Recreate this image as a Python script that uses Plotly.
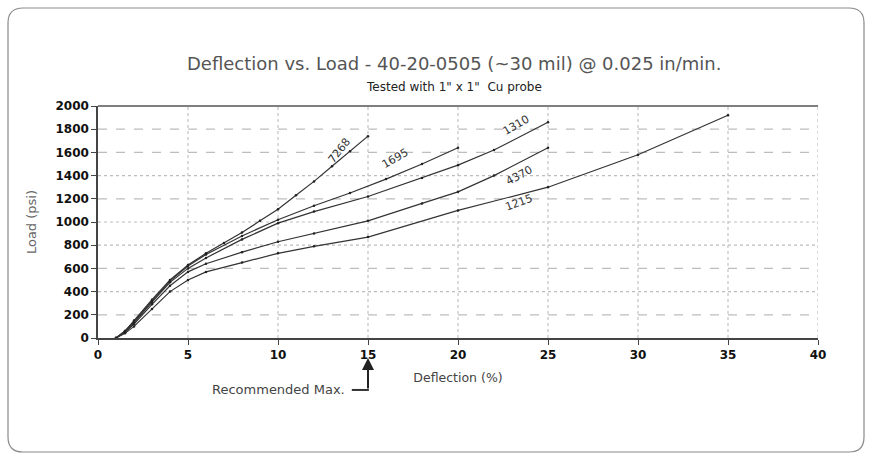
import plotly.graph_objects as go

# ---- data ----
x7268 = [1, 1.5, 2, 3, 4, 5, 6, 7, 8, 9, 10, 11, 12, 13, 14, 15]
y7268 = [0, 60, 150, 330, 500, 630, 730, 820, 910, 1010, 1110, 1230, 1350, 1480, 1610, 1740]

x1695 = [1, 1.5, 2, 3, 4, 5, 6, 8, 10, 12, 14, 16, 18, 20]
y1695 = [0, 60, 140, 320, 490, 620, 720, 880, 1020, 1140, 1250, 1370, 1500, 1640]

x1310 = [1, 1.5, 2, 3, 4, 5, 6, 8, 10, 12, 15, 18, 20, 22, 25]
y1310 = [0, 50, 130, 310, 480, 600, 690, 850, 990, 1090, 1220, 1380, 1490, 1620, 1860]

x4370 = [1, 1.5, 2, 3, 4, 5, 6, 8, 10, 12, 15, 18, 20, 22, 25]
y4370 = [0, 50, 120, 290, 450, 570, 640, 740, 830, 900, 1010, 1160, 1260, 1400, 1640]

x1215 = [1, 1.5, 2, 3, 4, 5, 6, 8, 10, 12, 15, 20, 25, 30, 35]
y1215 = [0, 40, 100, 250, 400, 500, 570, 650, 730, 790, 870, 1100, 1300, 1580, 1920]

series_names = ["7268", "1695", "1310", "4370", "1215"]
series_x = [x7268, x1695, x1310, x4370, x1215]
series_y = [y7268, y1695, y1310, y4370, y1215]

# label positions (data units) and angles
label_x = [13.4, 16.5, 23.2, 23.4, 23.4]
label_y = [1620, 1550, 1835, 1405, 1165]
label_angle = [-52, -30, -30, -28, -20]

y_ticks = list(range(0, 2001, 200))
x_ticks = [0, 5, 10, 15, 20, 25, 30, 35, 40]
y_grid = [200, 400, 600, 800, 1000, 1200, 1400, 1600, 1800]
y_grid_dash = ["dash", "dot", "dash", "dot", "dot", "dash", "dot", "dash", "dash"]
x_grid = [5, 10, 15, 20, 25, 30, 35, 40]

title = "Deflection vs. Load - 40-20-0505 (~30 mil) @ 0.025 in/min."
subtitle = 'Tested with 1" x 1"  Cu probe'

FONT = "DejaVu Sans"

fig = go.Figure()
for nm, xs, ys in zip(series_names, series_x, series_y):
    fig.add_trace(go.Scatter(x=xs, y=ys, mode="lines+markers", name=nm,
                             line=dict(color="#333333", width=1.2),
                             marker=dict(size=2.5, color="#222222"),
                             showlegend=False))

shapes = []
for yv, d in zip(y_grid, y_grid_dash):
    shapes.append(dict(type="line", xref="paper", yref="y", x0=0, x1=1, y0=yv, y1=yv,
                       line=dict(color="#bdbdbd", width=1.2, dash=d), layer="below"))
for xv in x_grid:
    shapes.append(dict(type="line", xref="x", yref="paper", x0=xv, x1=xv, y0=0, y1=1,
                       line=dict(color="#c4c4c4", width=1.2, dash="dot"), layer="below"))
# top frame line
shapes.append(dict(type="line", xref="paper", yref="paper", x0=0, x1=1, y0=1, y1=1,
                   line=dict(color="#555555", width=1.5)))

# outer rounded border
L, R, T, B = -0.125, 1.0639, 1.4224, -0.4914
rx, ry = 0.0208, 0.0647
path = (f"M {L+rx},{T} L {R-rx},{T} Q {R},{T} {R},{T-ry} L {R},{B+ry} Q {R},{B} {R-rx},{B} "
        f"L {L+rx},{B} Q {L},{B} {L},{B+ry} L {L},{T-ry} Q {L},{T} {L+rx},{T} Z")
shapes.append(dict(type="path", xref="paper", yref="paper", path=path,
                   line=dict(color="#8a8a8a", width=1.2)))

# recommended max horizontal stub
shapes.append(dict(type="line", xref="x", yref="paper", x0=14.1, x1=15.05, y0=-0.224, y1=-0.224,
                   line=dict(color="#333333", width=2)))

annotations = []
for nm, lx, ly, ang in zip(series_names, label_x, label_y, label_angle):
    annotations.append(dict(x=lx, y=ly, xref="x", yref="y", text=nm, showarrow=False,
                            textangle=ang, font=dict(family=FONT, size=11, color="#333333")))

annotations.append(dict(x=0.495, y=1.185, xref="paper", yref="paper", text=title, showarrow=False,
                        yanchor="middle", font=dict(family=FONT, size=18, color="#555555")))
annotations.append(dict(x=0.495, y=1.082, xref="paper", yref="paper", text=subtitle, showarrow=False,
                        yanchor="middle", font=dict(family=FONT, size=12, color="#222222")))
annotations.append(dict(x=15, y=-0.086, xref="x", yref="paper", ax=0, ay=32, text="",
                        showarrow=True, arrowhead=2, arrowsize=1.2, arrowwidth=2, arrowcolor="#222222"))
annotations.append(dict(x=13.85, y=-0.224, xref="x", yref="paper", text="Recommended Max.",
                        showarrow=False, xanchor="right", yanchor="middle",
                        font=dict(family=FONT, size=13, color="#444444")))

fig.update_layout(
    width=872, height=460,
    margin=dict(l=98, r=54, t=106, b=122),
    paper_bgcolor="white", plot_bgcolor="white",
    shapes=shapes, annotations=annotations,
    xaxis=dict(range=[0, 40], tickvals=x_ticks, ticktext=[f"<b>{v}</b>" for v in x_ticks],
               showgrid=False, zeroline=False, showline=True, linecolor="#444444", linewidth=1.5,
               ticks="outside", ticklen=5, tickcolor="#444444",
               tickfont=dict(family=FONT, size=12, color="#111111"),
               title=dict(text="Deflection (%)", standoff=12,
                          font=dict(family=FONT, size=12.5, color="#444444"))),
    yaxis=dict(range=[0, 2000], tickvals=y_ticks, ticktext=[f"<b>{v}</b>" for v in y_ticks],
               showgrid=False, zeroline=False, showline=True, linecolor="#444444", linewidth=1.5,
               ticks="outside", ticklen=5, tickcolor="#444444",
               tickfont=dict(family=FONT, size=12, color="#111111"),
               title=dict(text="Load (psi)", standoff=16,
                          font=dict(family=FONT, size=13, color="#666666"))),
)
fig.write_html("out.html")
